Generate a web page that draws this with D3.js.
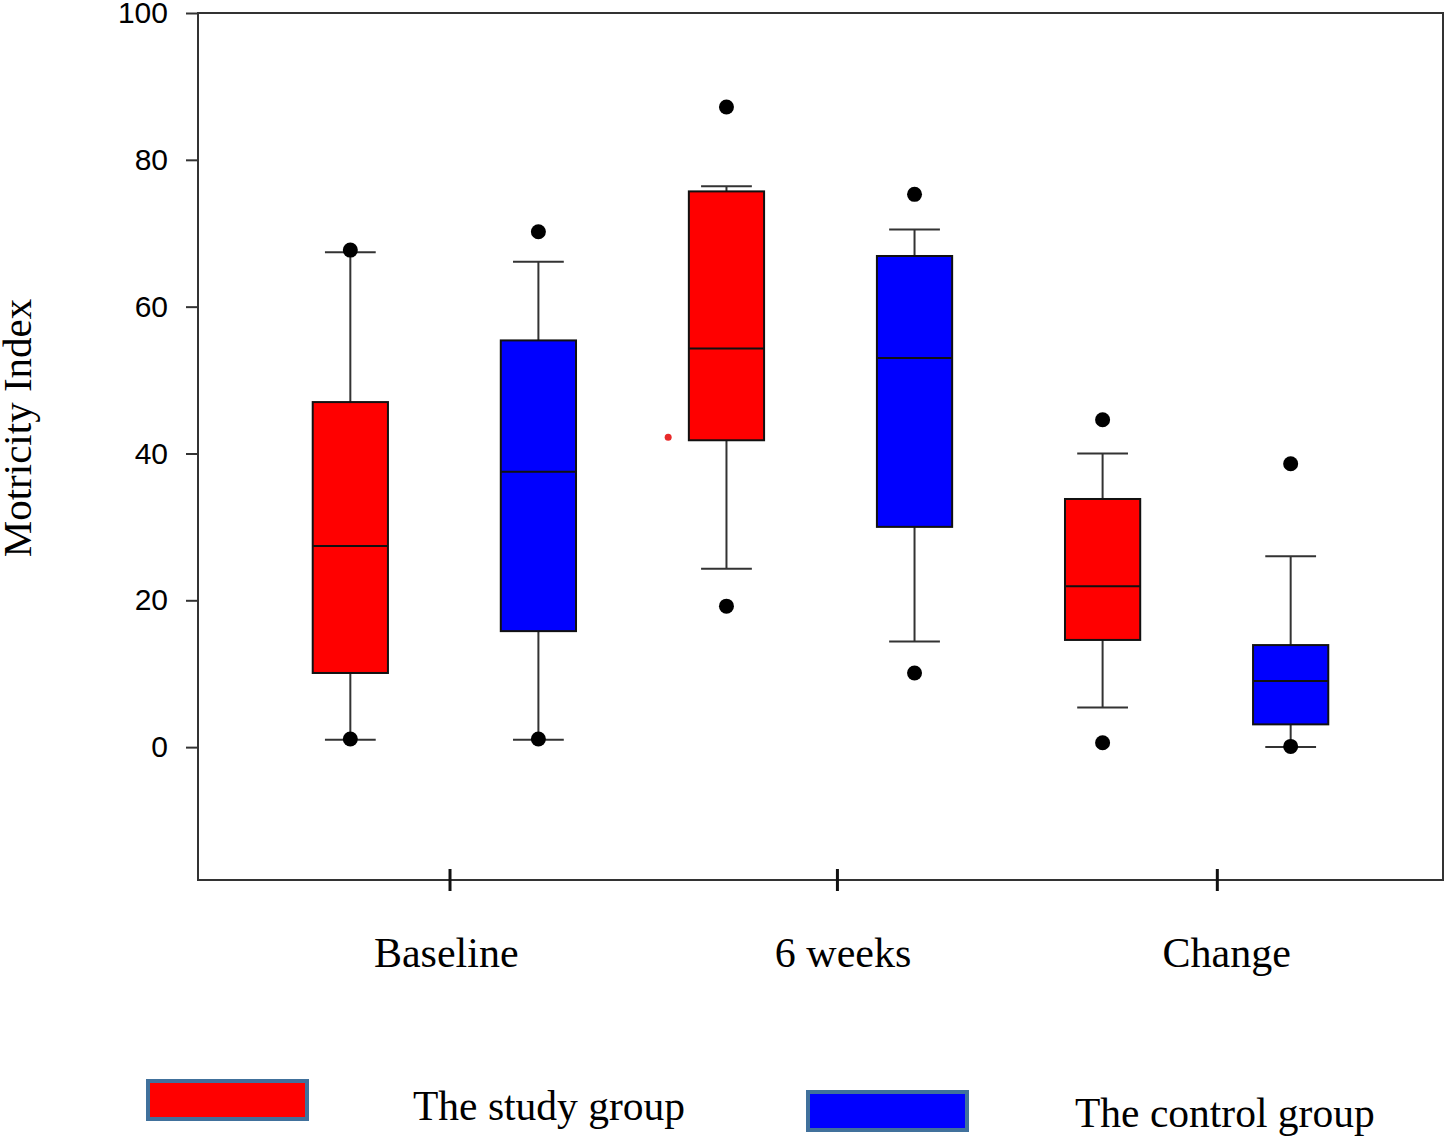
<!DOCTYPE html>
<html>
<head>
<meta charset="utf-8">
<script src="https://cdn.jsdelivr.net/npm/d3@7"></script>
<style>
  html, body { margin: 0; padding: 0; background: #fff; }
  svg { display: block; }
</style>
</head>
<body>
<svg id="chart" width="1446" height="1136"></svg>
<script>
// ---- data ----
const categories = ["Baseline", "6 weeks", "Change"];
const groups = ["The study group", "The control group"];
// box order: Baseline study, Baseline control, 6w study, 6w control, Change study, Change control
const boxGroup = [0, 1, 0, 1, 0, 1];
const whiskerLow  = [1.0, 1.0, 24.3, 14.4, 5.4, 0.0];
const q1          = [10.1, 15.8, 41.8, 30.0, 14.6, 3.1];
const median      = [27.4, 37.5, 54.3, 53.0, 21.9, 9.0];
const q3          = [47.0, 55.4, 75.7, 66.9, 33.8, 13.9];
const whiskerHigh = [67.4, 66.1, 76.4, 70.5, 40.0, 26.0];
const outlierLow  = [1.1, 1.1, 19.2, 10.1, 0.6, 0.1];
const outlierHigh = [67.7, 70.2, 87.2, 75.3, 44.6, 38.6];
const strayPoint  = { pos: 1.69, value: 42.2 };
const categoryTickPos = [0.53, 2.59, 4.61];
const categoryLabelPos = [0.51, 2.62, 4.66];
const yTicks = [0, 20, 40, 60, 80, 100];
const colors = ["#ff0000", "#0000ff"];

(function () {
// ---- layout ----
const svg = d3.select("#chart");
const pLeft = 198, pRight = 1443, pTop = 13, pBottom = 880;
const x = d3.scaleLinear().domain([-0.81, 5.81]).range([pLeft, pRight]);
const y = d3.scaleLinear().domain([-18.1, 100]).range([pBottom, pTop]);
const boxW = x(0.4) - x(0);
const capW = x(0.27) - x(0);
const stroke = "#333";

// frame
svg.append("rect")
  .attr("x", pLeft).attr("y", pTop)
  .attr("width", pRight - pLeft).attr("height", pBottom - pTop)
  .attr("fill", "none").attr("stroke", stroke).attr("stroke-width", 2);

// y axis
const yAxis = d3.axisLeft(y).tickValues(yTicks).tickSize(12).tickPadding(18);
const yg = svg.append("g").attr("transform", `translate(${pLeft},0)`).call(yAxis);
yg.select(".domain").remove();
yg.selectAll(".tick line").attr("stroke", stroke).attr("stroke-width", 2);
yg.selectAll(".tick text")
  .attr("font-family", "Liberation Sans, Arial, sans-serif")
  .attr("font-size", 30).attr("fill", "#000");

// x ticks (crossing the bottom line)
svg.append("g").selectAll("line").data(categoryTickPos).join("line")
  .attr("x1", d => x(d)).attr("x2", d => x(d))
  .attr("y1", pBottom - 11).attr("y2", pBottom + 11)
  .attr("stroke", "#111").attr("stroke-width", 3);

svg.append("g").selectAll("text").data(categories).join("text")
  .attr("x", (d, i) => x(categoryLabelPos[i]))
  .attr("y", 967)
  .attr("text-anchor", "middle")
  .attr("font-family", "Liberation Serif, Times New Roman, serif")
  .attr("font-size", 42)
  .text(d => d);

// y axis label
svg.append("text")
  .attr("transform", "translate(31,428) rotate(-90)")
  .attr("text-anchor", "middle")
  .attr("font-family", "Liberation Serif, Times New Roman, serif")
  .attr("font-size", 41)
  .text("Motricity Index");

// boxes
const idx = d3.range(median.length);
const g = svg.append("g");
idx.forEach(i => {
  const cx = x(i);
  g.append("line").attr("x1", cx).attr("x2", cx)
    .attr("y1", y(whiskerHigh[i])).attr("y2", y(q3[i]))
    .attr("stroke", stroke).attr("stroke-width", 2);
  g.append("line").attr("x1", cx).attr("x2", cx)
    .attr("y1", y(q1[i])).attr("y2", y(whiskerLow[i]))
    .attr("stroke", stroke).attr("stroke-width", 2);
  [whiskerHigh[i], whiskerLow[i]].forEach(v => {
    g.append("line").attr("x1", cx - capW / 2).attr("x2", cx + capW / 2)
      .attr("y1", y(v)).attr("y2", y(v))
      .attr("stroke", stroke).attr("stroke-width", 2);
  });
  g.append("rect")
    .attr("x", cx - boxW / 2).attr("y", y(q3[i]))
    .attr("width", boxW).attr("height", y(q1[i]) - y(q3[i]))
    .attr("fill", colors[boxGroup[i]])
    .attr("stroke", "#111").attr("stroke-width", 2);
  g.append("line").attr("x1", cx - boxW / 2).attr("x2", cx + boxW / 2)
    .attr("y1", y(median[i])).attr("y2", y(median[i]))
    .attr("stroke", "#111").attr("stroke-width", 2);
  [outlierHigh[i], outlierLow[i]].forEach(v => {
    g.append("circle").attr("cx", cx).attr("cy", y(v)).attr("r", 7.5).attr("fill", "#000");
  });
});

// stray red dot
svg.append("circle")
  .attr("cx", x(strayPoint.pos)).attr("cy", y(strayPoint.value))
  .attr("r", 3.5).attr("fill", "#e82a2a");

// legend
const legendRects = [{ x: 148, y: 1081 }, { x: 808, y: 1092 }];
const legendTexts = [{ x: 413, y: 1120 }, { x: 1075, y: 1127 }];
groups.forEach((name, i) => {
  svg.append("rect")
    .attr("x", legendRects[i].x).attr("y", legendRects[i].y)
    .attr("width", 159).attr("height", 38)
    .attr("fill", colors[i]).attr("stroke", "#41719c").attr("stroke-width", 4);
  svg.append("text")
    .attr("x", legendTexts[i].x).attr("y", legendTexts[i].y)
    .attr("font-family", "Liberation Serif, Times New Roman, serif")
    .attr("font-size", 41.5)
    .text(name);
});
})();
</script>
</body>
</html>
